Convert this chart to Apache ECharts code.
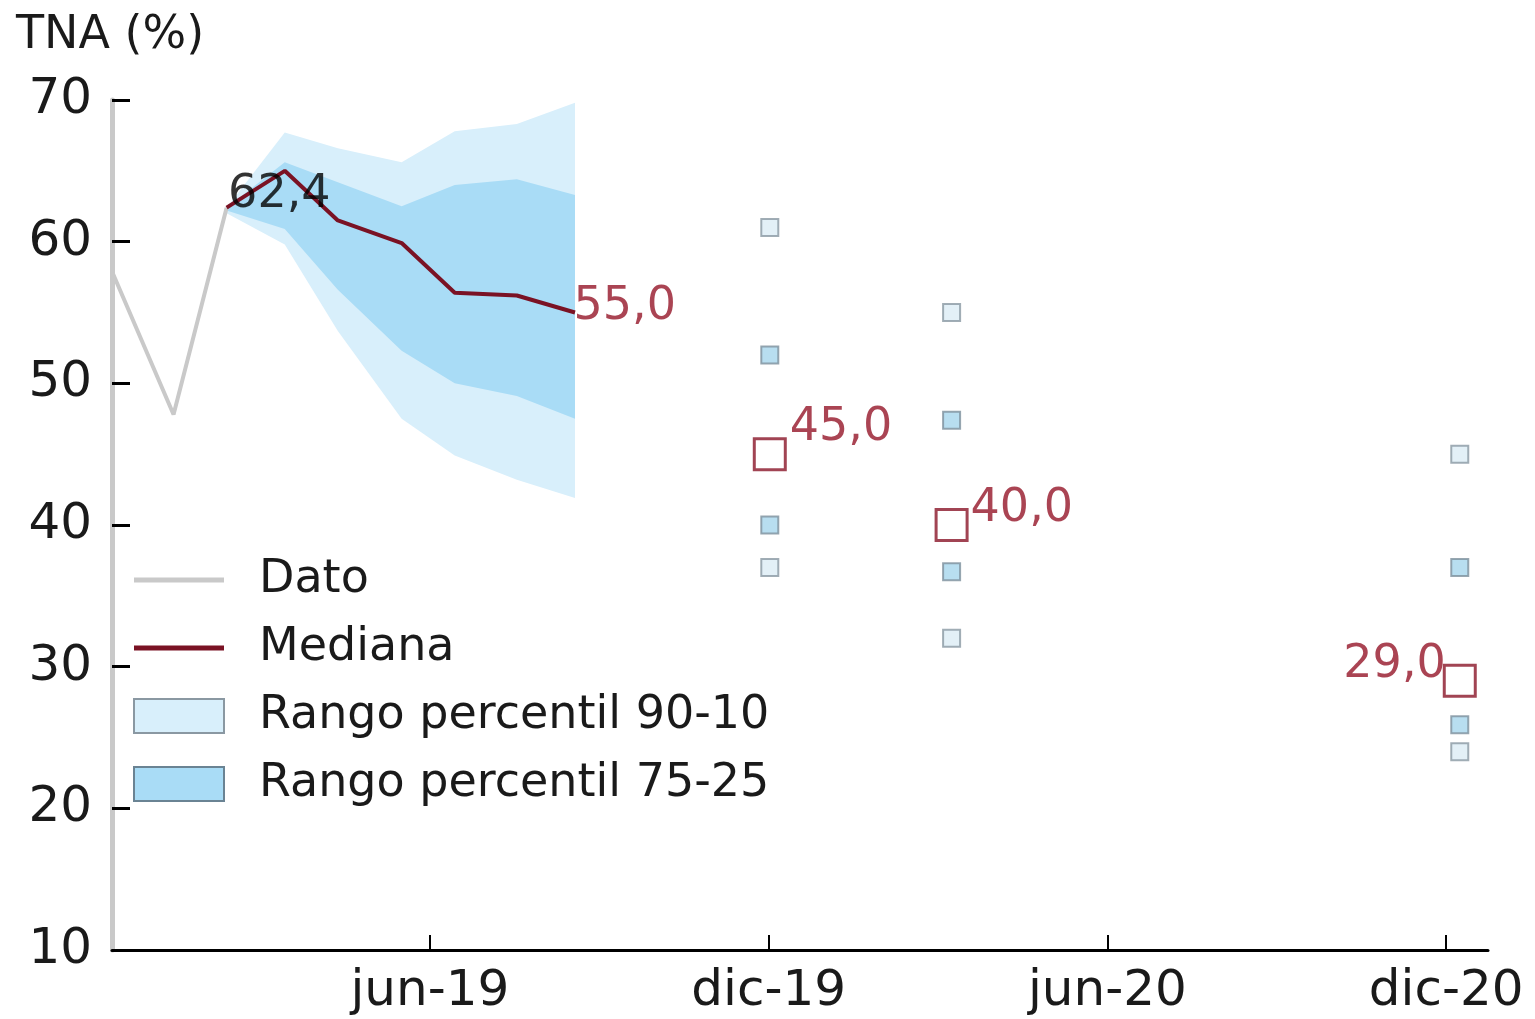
<!DOCTYPE html>
<html>
<head>
<meta charset="utf-8">
<script src="https://cdn.jsdelivr.net/npm/echarts@6/dist/echarts.min.js"></script>
<style>
html,body{margin:0;padding:0;background:#fff;}
#chart{width:1535px;height:1019px;}
</style>
</head>
<body>
<div id="chart"></div>
<script>
// ---- data (x in months, jun-19 = 6) ----
const tickValues = [6, 12, 18, 24];
const tickLabels = ['jun-19', 'dic-19', 'jun-20', 'dic-20'];

const datoX = [0.38, 1.46, 2.40];
const datoY = [57.8, 47.8, 62.4];

const medX = [2.40, 3.43, 4.37, 5.50, 6.44, 7.54, 8.57];
const medY = [62.4, 65.0, 61.5, 59.9, 56.4, 56.2, 55.0];
const p90 = [62.4, 67.7, 66.6, 65.6, 67.8, 68.3, 69.8];
const p75 = [62.4, 65.6, 64.2, 62.5, 64.0, 64.4, 63.3];
const p25 = [62.2, 60.9, 56.6, 52.3, 50.0, 49.1, 47.5];
const p10 = [62.0, 59.8, 53.7, 47.5, 44.9, 43.2, 41.9];

const colX = [12.02, 15.24, 24.24];
const col90 = [61.0, 55.0, 45.0];
const col75 = [52.0, 47.4, 37.0];
const col25 = [40.0, 36.7, 25.9];
const col10 = [37.0, 32.0, 24.0];
const colMed = [45.0, 40.0, 29.0];

// ---- styles ----
const FONT = 'DejaVu Sans';
const LIGHT = '#d8effb';
const MEDIUM = '#a9dcf6';
const EDGE = '#8a98a2';
const RED = '#8a1528';
const REDTXT = '#951528';
const GRAY = '#c9c9c9';
const MEDLINE = '#7a1224';

const fmt = v => v.toFixed(1).replace('.', ',');
const pair = (xs, ys) => xs.map((x, i) => [x, ys[i]]);

function bandRender(lo, hi, color) {
  return function (params, api) {
    if (params.dataIndex !== 0) return;
    const pts = [];
    for (let i = 0; i < medX.length; i++) pts.push(api.coord([medX[i], hi[i]]));
    for (let i = medX.length - 1; i >= 0; i--) pts.push(api.coord([medX[i], lo[i]]));
    return { type: 'polygon', shape: { points: pts }, style: { fill: color } };
  };
}

const medLabelCfg = [
  { position: 'right', distance: 0, offset: [1, -13], color: '#000' },
  { position: 'right', distance: 0, offset: [-2, -5], color: REDTXT }
];
const sqLabelCfg = [
  { position: 'right', distance: 3, offset: [0, -26] },
  { position: 'right', distance: 2, offset: [0, -16] },
  { position: 'left', distance: 0, offset: [3, -16] }
];

const LINE_ICON = 'path://M0,0 H90 V5 H0 Z';

const chart = echarts.init(document.getElementById('chart'), null, { renderer: 'canvas' });

const option = {
  backgroundColor: '#ffffff',
  animation: false,
  textStyle: { fontFamily: FONT },
  title: {
    text: 'TNA (%)', left: 11, top: 8,
    textStyle: { fontFamily: FONT, fontSize: 46, fontWeight: 'normal', color: '#1a1a1a' }
  },
  grid: { left: 112, right: 47, top: 100, bottom: 69 },
  legend: {
    orient: 'vertical', left: 128, top: 552, itemGap: 22,
    itemWidth: 90, itemHeight: 34,
    textStyle: { fontFamily: FONT, fontSize: 46, color: '#1a1a1a', padding: [0, 0, 0, 30] },
    data: [
      { name: 'Dato', icon: LINE_ICON, itemStyle: { color: GRAY } },
      { name: 'Mediana', icon: LINE_ICON, itemStyle: { color: MEDLINE } },
      { name: 'Rango percentil 90-10', icon: 'rect', itemStyle: { color: LIGHT, borderColor: EDGE, borderWidth: 2 } },
      { name: 'Rango percentil 75-25', icon: 'rect', itemStyle: { color: MEDIUM, borderColor: '#6a8393', borderWidth: 2 } }
    ]
  },
  xAxis: {
    type: 'value', min: 0.37, max: 24.74,
    splitLine: { show: false },
    axisLine: { show: true, lineStyle: { color: '#000', width: 3 } },
    axisTick: { show: true, inside: true, length: 15, customValues: tickValues, lineStyle: { color: '#000', width: 2 } },
    axisLabel: {
      customValues: tickValues, margin: 17,
      fontFamily: FONT, fontSize: 50, color: '#1a1a1a',
      formatter: v => tickLabels[tickValues.indexOf(v)] || ''
    }
  },
  yAxis: {
    type: 'value', min: 10, max: 70, interval: 10,
    splitLine: { show: false },
    axisLine: { show: true, lineStyle: { color: GRAY, width: 5 } },
    axisTick: { show: true, inside: true, length: 18, lineStyle: { color: '#000', width: 3 } },
    axisLabel: { margin: 20, fontFamily: FONT, fontSize: 50, color: '#1a1a1a' }
  },
  series: [
    {
      name: 'Rango percentil 90-10', type: 'custom', z: 1,
      itemStyle: { color: LIGHT },
      renderItem: bandRender(p10, p90, LIGHT),
      encode: { x: 0, y: [1, 2] },
      data: medX.map((x, i) => [x, p10[i], p90[i]])
    },
    {
      name: 'Rango percentil 75-25', type: 'custom', z: 2,
      itemStyle: { color: MEDIUM },
      renderItem: bandRender(p25, p75, MEDIUM),
      encode: { x: 0, y: [1, 2] },
      data: medX.map((x, i) => [x, p25[i], p75[i]])
    },
    {
      name: 'Dato', type: 'line', z: 3, symbol: 'none',
      lineStyle: { color: GRAY, width: 4 }, itemStyle: { color: GRAY },
      data: pair(datoX, datoY)
    },
    {
      name: 'Mediana', type: 'line', z: 4, symbol: 'none',
      lineStyle: { color: MEDLINE, width: 4 }, itemStyle: { color: MEDLINE },
      data: pair(medX, medY)
    },
    {
      name: 'p90-10 pts', type: 'scatter', z: 5, symbol: 'rect', symbolSize: 17,
      itemStyle: { color: '#dcecf5', borderColor: EDGE, borderWidth: 2 },
      data: pair(colX, col90).concat(pair(colX, col10))
    },
    {
      name: 'p75-25 pts', type: 'scatter', z: 5, symbol: 'rect', symbolSize: 17,
      itemStyle: { color: '#a6d6ec', borderColor: '#7d909c', borderWidth: 2 },
      data: pair(colX, col75).concat(pair(colX, col25))
    },
    {
      name: 'Mediana pts', type: 'scatter', z: 6, symbol: 'rect', symbolSize: 31,
      itemStyle: { color: 'rgba(255,255,255,0)', borderColor: RED, borderWidth: 3 },
      label: { show: true, fontFamily: FONT, fontSize: 46, color: REDTXT, formatter: p => fmt(p.value[1]) },
      data: colX.map((x, i) => ({ value: [x, colMed[i]], label: sqLabelCfg[i] }))
    },
    {
      name: 'Mediana labels', type: 'scatter', z: 7, symbolSize: 1,
      itemStyle: { color: 'rgba(0,0,0,0)' },
      label: { show: true, fontFamily: FONT, fontSize: 46, formatter: p => fmt(p.value[1]) },
      data: [
        { value: [medX[0], medY[0]], label: medLabelCfg[0] },
        { value: [medX[medX.length - 1], medY[medY.length - 1]], label: medLabelCfg[1] }
      ]
    }
  ]
};
chart.setOption(option);
</script>
</body>
</html>
